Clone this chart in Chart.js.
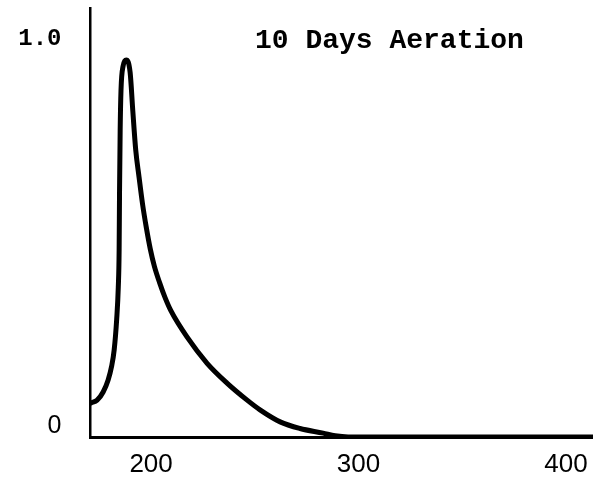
<!DOCTYPE html>
<html>
<head>
<meta charset="utf-8">
<script src="https://cdn.jsdelivr.net/npm/chart.js@4/dist/chart.umd.min.js"></script>
<style>
  html, body { margin: 0; padding: 0; background: #fff; }
  #wrap { width: 593px; height: 479px; }
</style>
</head>
<body>
<div id="wrap"><canvas id="c" width="593" height="479"></canvas></div>
<script>
// Data
const xValues = [171.1, 174, 176.9, 179.3, 181, 182.2, 183.4, 184.2, 184.6, 184.8, 185.1, 185.5, 186.5, 188, 189.9, 191.2, 192.6, 194.2, 195.9, 197.7, 199.6, 201.6, 204.1, 206.7, 209.6, 217.3, 227, 236.6, 246.3, 252.5, 262.2, 271.8, 282.9, 288.7, 295, 413];
const yValues = [0.088, 0.095, 0.116, 0.147, 0.183, 0.224, 0.302, 0.387, 0.482, 0.637, 0.791, 0.894, 0.956, 0.972, 0.940, 0.840, 0.740, 0.670, 0.600, 0.540, 0.485, 0.440, 0.398, 0.360, 0.325, 0.258, 0.190, 0.139, 0.095, 0.070, 0.039, 0.022, 0.010, 0.003, 0, 0];
const xTicks = [200, 300, 400];
const yTicks = [0, 1.0];
const yTickLabels = ['0', '1.0'];
const titleText = '10 Days Aeration';

const points = xValues.map((x, i) => ({ x: x, y: yValues[i] }));

const titlePlugin = {
  id: 'inlineTitle',
  afterDraw(chart) {
    const ctx = chart.ctx;
    ctx.save();
    ctx.fillStyle = '#000';
    ctx.font = 'bold 28px "Liberation Mono", monospace';
    ctx.textBaseline = 'alphabetic';
    ctx.textAlign = 'left';
    ctx.fillText(titleText, 255, 48);
    ctx.restore();
  }
};

function zeroPadding(scale) {
  scale.paddingTop = 0;
  scale.paddingBottom = 0;
  scale.paddingLeft = 0;
  scale.paddingRight = 0;
}

new Chart(document.getElementById('c'), {
  type: 'line',
  data: {
    datasets: [{
      data: points,
      borderColor: '#000',
      borderWidth: 5,
      pointRadius: 0,
      fill: false,
      cubicInterpolationMode: 'monotone',
      borderCapStyle: 'round',
      borderJoinStyle: 'round'
    }]
  },
  options: {
    responsive: false,
    animation: false,
    devicePixelRatio: 1,
    layout: { padding: { top: 8, right: 0, left: 0, bottom: 0 } },
    plugins: { legend: { display: false }, tooltip: { enabled: false }, title: { display: false } },
    scales: {
      x: {
        type: 'linear',
        min: 170.8,
        max: 413,
        grid: { display: false, drawTicks: false },
        border: { display: true, color: '#000', width: 3 },
        afterBuildTicks(scale) { scale.ticks = xTicks.map(v => ({ value: v })); },
        afterFit(scale) { scale.height = 42; zeroPadding(scale); },
        ticks: {
          color: '#000',
          padding: 12,
          maxRotation: 0,
          autoSkip: false,
          font: { family: '"Liberation Sans", Arial, sans-serif', size: 26 },
          callback: (v) => String(v)
        }
      },
      y: {
        type: 'linear',
        min: 0,
        max: 1.106,
        grid: { display: false, drawTicks: false },
        border: { display: true, color: '#000', width: 2.5 },
        afterBuildTicks(scale) { scale.ticks = yTicks.map(v => ({ value: v })); },
        afterFit(scale) { scale.width = 90.5; zeroPadding(scale); },
        ticks: {
          color: '#000',
          padding: 29,
          labelOffset: -10.5,
          autoSkip: false,
          font: (ctx) => (ctx.tick && ctx.tick.value === 0)
            ? { family: '"Liberation Sans", Arial, sans-serif', size: 25 }
            : { family: '"Liberation Mono", monospace', size: 24, weight: 'bold' },
          callback: (v) => yTickLabels[yTicks.indexOf(v)]
        }
      }
    }
  },
  plugins: [titlePlugin]
});
</script>
</body>
</html>
